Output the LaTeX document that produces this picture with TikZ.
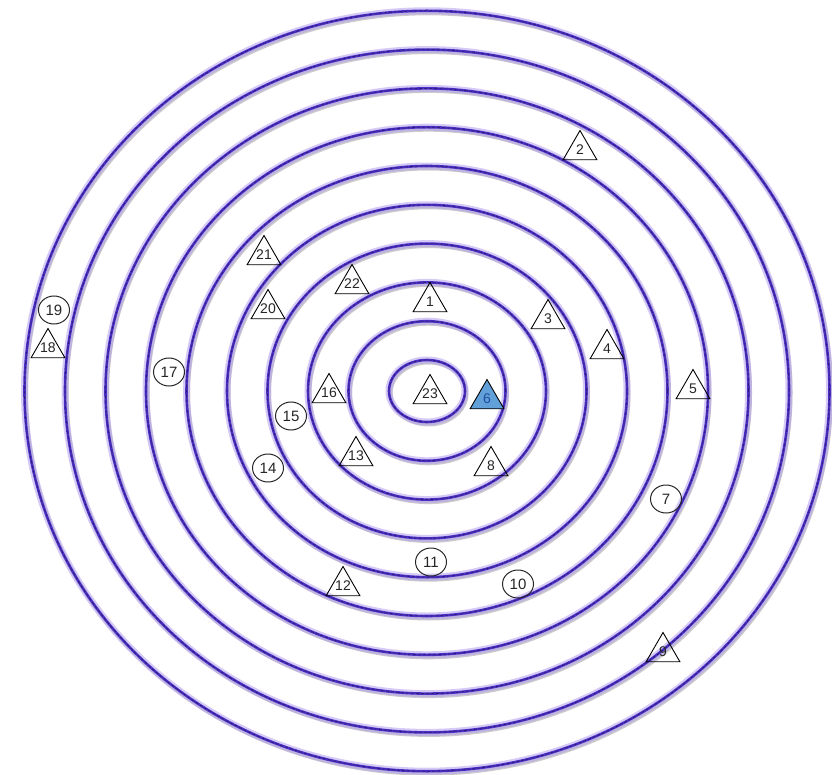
\documentclass[tikz,border=0pt]{standalone}
\usepackage{fontspec}
\setmainfont{Liberation Sans}
\usetikzlibrary{shapes.geometric}
\definecolor{ringcore}{HTML}{4A2FC4}
\definecolor{ringglow}{HTML}{B3A0F0}
\definecolor{ringshade}{HTML}{9A9A9A}
\definecolor{marktext}{HTML}{262626}
\definecolor{hotfill}{HTML}{62A0DA}
\definecolor{hottext}{HTML}{1F4F9C}
\newcommand{\trinum}[1]{\makebox[0pt]{#1}}
\tikzset{
  ringshadow/.style={draw=ringshade, line width=4pt, opacity=0.5},
  ringhalo/.style={draw=ringglow, line width=7pt, opacity=0.55},
  ring/.style={draw=ringcore, line width=2.6pt},
  ringtex/.style={draw=black, line width=0.7pt, opacity=0.4, dash pattern=on 3pt off 2pt},
  tri/.style={regular polygon, regular polygon sides=3, draw=black, line width=0.9pt, inner sep=0pt, minimum size=39pt, text=marktext, font=\fontsize{14}{14}\selectfont},
  trihot/.style={tri, fill=hotfill, text=hottext},
  dot/.style={ellipse, draw=marktext, line width=1pt, inner sep=0pt, minimum width=31pt, minimum height=28pt, text=marktext, font=\fontsize{15}{15}\selectfont},
}
\begin{document}
\begin{tikzpicture}[x=1pt,y=-1pt]
  \useasboundingbox[fill=white] (0,0) rectangle (832,775);
  % rings
  \foreach \k in {0,...,9}{
    \pgfmathsetmacro{\rx}{38+40.5*\k}
    \pgfmathsetmacro{\ry}{31+38.8*\k}
    \draw[ringshadow] (428.5,393.5) ellipse [x radius=\rx pt, y radius=\ry pt];
    \draw[ringhalo] (427,391) ellipse [x radius=\rx pt, y radius=\ry pt];
    \draw[ring] (427,391) ellipse [x radius=\rx pt, y radius=\ry pt];
    \draw[ringtex] (427,391) ellipse [x radius=\rx pt, y radius=\ry pt];
  }
  % triangles
  \node[tri] (m1) at (430,302) {\trinum{1}};
  \node[tri] (m2) at (580,150) {\trinum{2}};
  \node[tri] (m3) at (548,319) {\trinum{3}};
  \node[tri] (m4) at (607,349) {\trinum{4}};
  \node[tri] (m5) at (693,389) {\trinum{5}};
  \node[trihot] (m6) at (487,399) {\trinum{6}};
  \node[tri] (m8) at (491,466) {\trinum{8}};
  \node[tri] (m9) at (663,652) {\trinum{9}};
  \node[tri] (m12) at (343,586) {\trinum{12}};
  \node[tri] (m13) at (356,456) {\trinum{13}};
  \node[tri] (m16) at (329,393) {\trinum{16}};
  \node[tri] (m18) at (48,348) {\trinum{18}};
  \node[tri] (m20) at (268,309) {\trinum{20}};
  \node[tri] (m21) at (264,255) {\trinum{21}};
  \node[tri] (m22) at (352,284) {\trinum{22}};
  \node[tri] (m23) at (430,394) {\trinum{23}};
  % circles
  \node[dot] (m7) at (666,499) {7};
  \node[dot] (m10) at (518,584) {10};
  \node[dot] (m11) at (431,562) {11};
  \node[dot] (m14) at (268,468) {14};
  \node[dot] (m15) at (291,416) {15};
  \node[dot] (m17) at (169,372) {17};
  \node[dot] (m19) at (54,310) {19};
\end{tikzpicture}
\end{document}
